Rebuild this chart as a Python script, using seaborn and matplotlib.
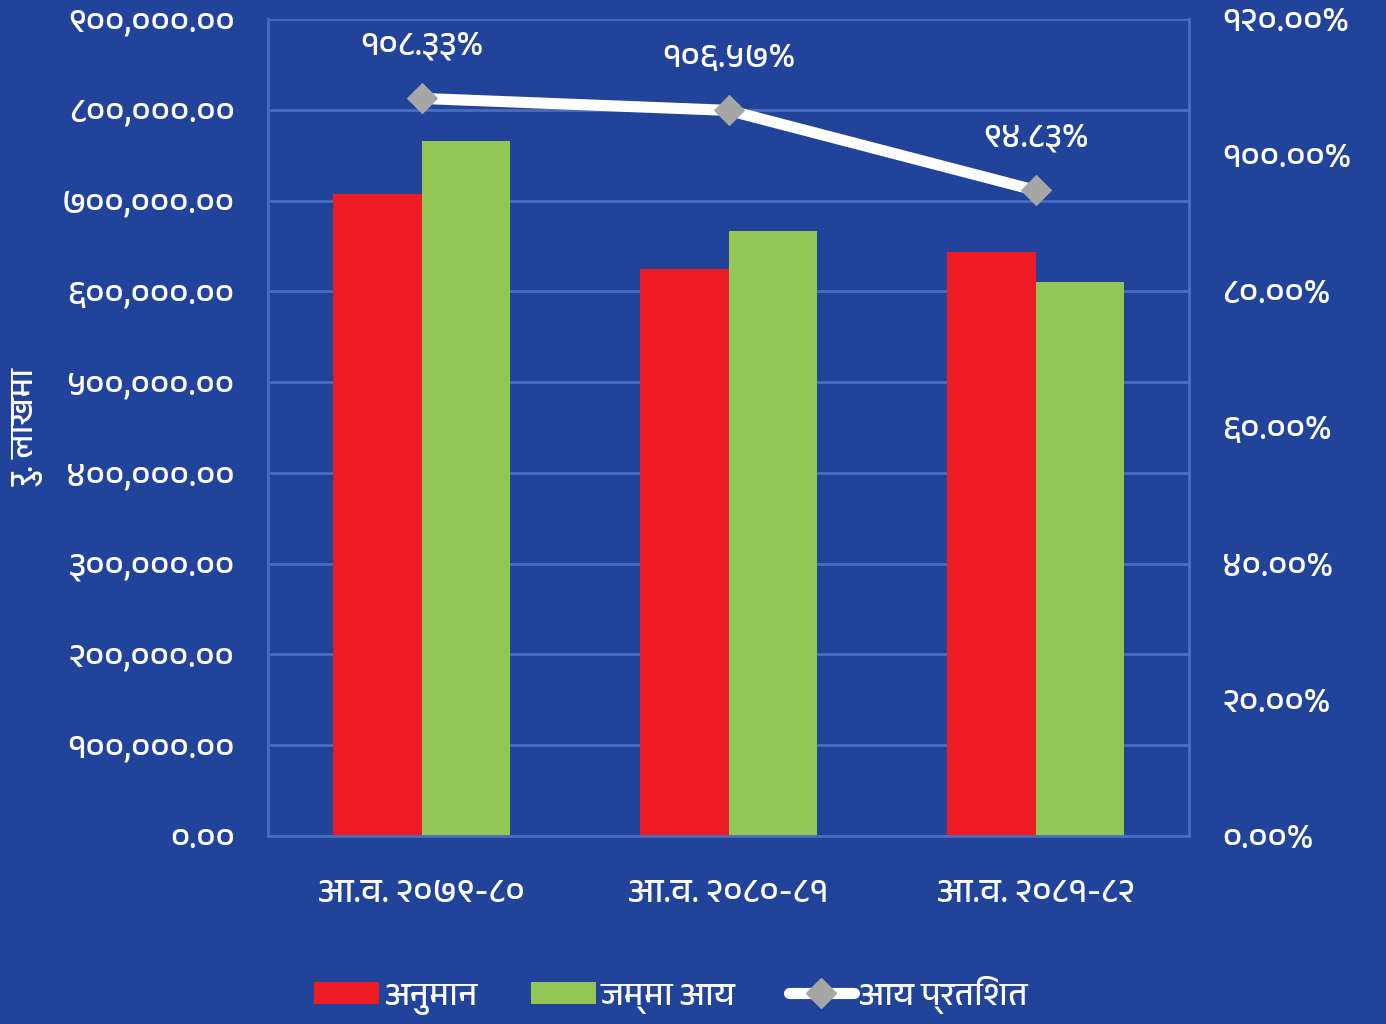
import matplotlib
matplotlib.use("Agg")
import matplotlib.pyplot as plt
import seaborn as sns
import pandas as pd
from matplotlib import font_manager
from matplotlib.ticker import FuncFormatter, FixedLocator
from matplotlib.lines import Line2D
from matplotlib.patches import Patch

# ------------------------------------------------------ #
# DATA
# ------------------------------------------------------ #
categories = ['आ.व. २०७९-८०', 'आ.व. २०८०-८१', 'आ.व. २०८१-८२']
anuman = [707000, 625000, 643000]          # अनुमान
jamma_aay = [765900, 666060, 609760]       # जम्मा आय
aay_pratishat = [108.33, 106.57, 94.83]    # आय प्रतिशत
series_names = ['अनुमान', 'जम्मा आय', 'आय प्रतिशत']

BG = '#21439A'
GRID = '#4A6DBF'
RED = '#ED1C24'
GREEN = '#92C755'

# ------------------------------------------------------ #
# FONTS
# ------------------------------------------------------ #
sns.set_style("white")
deva = []
for f in font_manager.fontManager.ttflist:
    n = f.name
    if any(k in n for k in ['Devanagari', 'Lohit', 'Mukta', 'Kalimati', 'Gargi', 'Mangal', 'Annapurna']):
        if n not in deva:
            deva.append(n)
plt.rcParams['font.family'] = deva + ['DejaVu Sans']

DIGITS = str.maketrans('0123456789', '०१२३४५६७८९')


def to_nep(s):
    return s.translate(DIGITS)


def fmt_left(x, pos):
    return to_nep(f'{x:,.2f}')


def fmt_right(x, pos):
    return to_nep(f'{x:.2f}%')


# ------------------------------------------------------ #
# FIGURE
# ------------------------------------------------------ #
fig = plt.figure(figsize=(13.86, 10.24), dpi=100, facecolor=BG)
ax = fig.add_axes([0.1934, 0.1836, 0.6645, 0.7979], facecolor=BG)

df = pd.DataFrame({
    'cat': categories * 2,
    'val': anuman + jamma_aay,
    'series': [series_names[0]] * 3 + [series_names[1]] * 3,
})
sns.barplot(data=df, x='cat', y='val', hue='series', palette=[RED, GREEN],
            width=0.575, gap=0, saturation=1, linewidth=0, edgecolor='none',
            ax=ax, legend=False)

ax.set_ylim(0, 900000)
ax.set_xlim(-0.5, 2.5)
ax.yaxis.set_major_locator(FixedLocator(range(0, 900001, 100000)))
ax.yaxis.set_major_formatter(FuncFormatter(fmt_left))
ax.grid(axis='y', color=GRID, linewidth=2)
ax.set_axisbelow(True)
for s in ['left', 'right', 'bottom']:
    ax.spines[s].set_color(GRID)
    ax.spines[s].set_linewidth(2)
ax.spines['top'].set_visible(False)
ax.tick_params(axis='y', colors='white', labelsize=25, length=0, pad=24)
ax.tick_params(axis='x', colors='white', labelsize=25, length=0, pad=30)
ax.set_xticks(range(3))
ax.set_xticklabels(categories)
ax.set_xticks([-0.5, 0.5, 1.5, 2.5], minor=True)
ax.tick_params(axis='x', which='minor', length=12, width=1.5, color=GRID)
ax.set_xlabel('')
ax.set_ylabel('रु. लाखमा', color='white', fontsize=24, labelpad=12)

# ------------------------------------------------------ #
# LINE ON RIGHT AXIS
# ------------------------------------------------------ #
ax2 = ax.twinx()
ax2.set_ylim(0, 120)
sns.lineplot(x=list(range(3)), y=aay_pratishat, color='white', linewidth=8,
             marker='D', markersize=15, markerfacecolor='#A6A6A6',
             markeredgecolor='#A6A6A6', ax=ax2, legend=False)
ax2.yaxis.set_major_locator(FixedLocator(range(0, 121, 20)))
ax2.yaxis.set_major_formatter(FuncFormatter(fmt_right))
ax2.tick_params(axis='y', colors='white', labelsize=25, length=0, pad=24)
for s in ax2.spines.values():
    s.set_visible(False)
ax2.grid(False)

for i, v in enumerate(aay_pratishat):
    ax2.annotate(to_nep(f'{v:.2f}%'), xy=(i, v), xytext=(0, 38),
                 textcoords='offset points', ha='center', va='center',
                 color='white', fontsize=25)

# ------------------------------------------------------ #
# LEGEND
# ------------------------------------------------------ #
handles = [
    Patch(facecolor=RED, edgecolor='none'),
    Patch(facecolor=GREEN, edgecolor='none'),
    Line2D([0], [0], color='white', linewidth=8, marker='D', markersize=15,
           markerfacecolor='#A6A6A6', markeredgecolor='#A6A6A6'),
]
fig.legend(handles, series_names, loc='center', bbox_to_anchor=(0.484, 0.028),
           ncol=3, frameon=False, fontsize=24, labelcolor='white',
           handlelength=1.95, handleheight=0.65, handletextpad=0.15, columnspacing=1.6)

plt.savefig('out.png', dpi=100, facecolor=BG)
